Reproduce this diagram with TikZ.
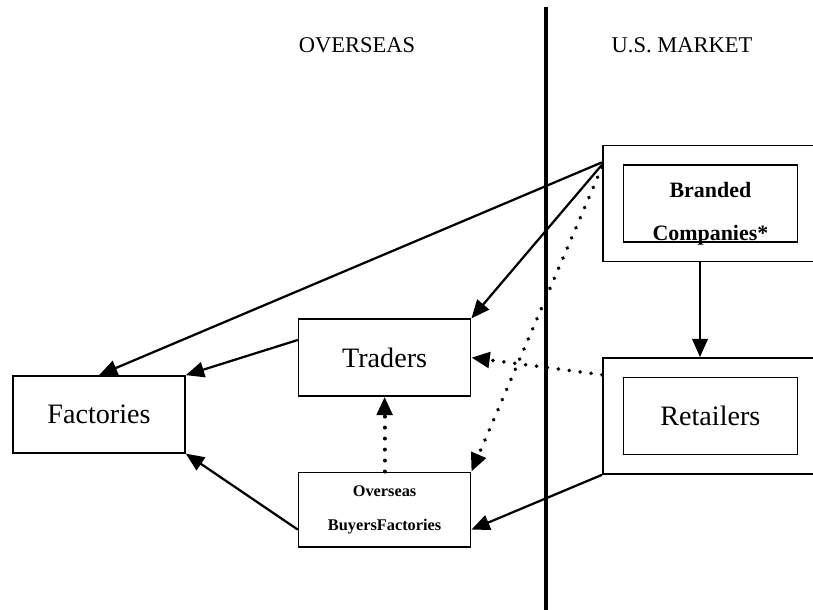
\documentclass[tikz,border=0pt]{standalone}
\usepackage{fontspec}
\setmainfont{Liberation Serif}
\usetikzlibrary{arrows.meta, positioning}
\tikzstyle{box} = [rectangle, 
minimum width=2.15cm, 
minimum height=0.96cm, 
text centered, 
draw=black, 
semithick,
font=\fontsize{10}{12}\selectfont]
\tikzstyle{smallbox} = [box, 
minimum height=0.93cm, 
align=center,
font=\fontsize{5.8}{7}\selectfont\bfseries]
\tikzstyle{outerbox} = [rectangle, 
minimum width=2.69cm, 
minimum height=1.45cm, 
draw=black, 
semithick]
\tikzstyle{innerbox} = [box, 
minimum width=2.175cm, 
minimum height=0.96cm]
\tikzstyle{boxtext} = [inner sep=0pt, 
align=center, 
font=\fontsize{7.8}{9.4}\selectfont\bfseries]
\tikzstyle{heading} = [font=\fontsize{8}{10}\selectfont]
\tikzstyle{arrow} = [thick,->,>={Triangle[length=6.5pt,width=5.5pt]}]
\tikzstyle{dotarrow} = [arrow, line width=1.4pt, line cap=round, dash pattern=on 0.01pt off 3.9pt]

\begin{document}
\begin{tikzpicture}[node distance=2cm, auto]
		\useasboundingbox (0,0) rectangle (10.1625,-7.625);
		% overseas side
		\node (fac) [box] at (1.2375,-5.18) {Factories};
		\node (trd) [box, right of=fac, node distance=3.57cm, yshift=0.71cm] {Traders};
		\node (buy) [smallbox, below of=trd, node distance=1.9cm] {Overseas\\[5pt]BuyersFactories};
		% U.S. side
		\node (bout) [outerbox] at (8.88,-2.545) {};
		\node (bin) [innerbox] at (bout) {};
		\node (btext) [boxtext] at ([yshift=-0.125cm]bin.center) {Branded\\[5.8pt]Companies*};
		\node (rout) [outerbox, below of=bout, node distance=2.655cm] {};
		\node (rin) [innerbox] at (rout) {Retailers};
		% headings and divider
		\node (hover) [heading] at (4.4625,-0.5625) {OVERSEAS};
		\node (hus) [heading] at (8.525,-0.5625) {U.S. MARKET};
		\coordinate (divtop) at (6.825,-0.09);
		\coordinate (divbot) at (6.825,-7.7);
		\draw [line width=1.4pt] (divtop) -- (divbot);
	
		\draw [arrow] ([yshift=-0.22cm]bout.north west) -- (fac.north);
		\draw [arrow] ([yshift=-0.25cm]bout.north west) -- (trd.north east);
		\draw [dotarrow] ([yshift=-0.28cm]bout.north west) -- (buy.north east);
		\draw [arrow] ([xshift=-0.13cm]bout.south) -- ([xshift=-0.13cm]rout.north);
		\draw [dotarrow] ([yshift=-0.22cm]rout.north west) -- (trd.east);
		\draw [arrow] (rout.south west) -- ([yshift=-0.25cm]buy.east);
		\draw [arrow] ([yshift=0.22cm]trd.west) -- (fac.north east);
		\draw [arrow] ([yshift=-0.25cm]buy.west) -- (fac.south east);
		\draw [dotarrow] (buy) -- (trd);
	\end{tikzpicture}
\end{document}
